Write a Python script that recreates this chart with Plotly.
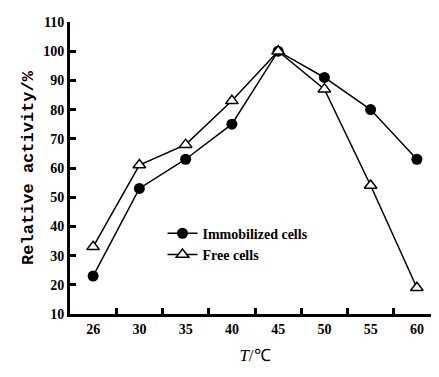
import plotly.graph_objects as go

temps = ["26", "30", "35", "40", "45", "50", "55", "60"]
immobilized = [23, 53, 63, 75, 100, 91, 80, 63]
free = [33, 61, 68, 83, 100, 87, 54, 19]
y_ticks = [10, 20, 30, 40, 50, 60, 70, 80, 90, 100, 110]

fig = go.Figure()
fig.add_trace(go.Scatter(
    x=temps, y=immobilized, name="Immobilized cells", mode="lines+markers",
    line=dict(color="black", width=1.5),
    marker=dict(symbol="circle", size=11, color="black"),
))
fig.add_trace(go.Scatter(
    x=temps, y=free, name="Free cells", mode="lines+markers",
    line=dict(color="black", width=1.5),
    marker=dict(symbol="triangle-up", size=11, color="white",
                line=dict(color="black", width=1.5)),
))

tickfont = dict(family="Liberation Serif", size=14, color="black", weight="bold")
fig.update_layout(
    width=439, height=377,
    margin=dict(l=62, r=7, t=12, b=71),
    paper_bgcolor="white", plot_bgcolor="white",
    showlegend=True,
    legend=dict(x=0.25, y=0.33, xanchor="left", yanchor="top",
                bgcolor="rgba(0,0,0,0)",
                font=dict(family="Liberation Serif", size=14, color="black", weight="bold"),
                itemwidth=30, tracegroupgap=0),
    xaxis=dict(type="category", range=[-0.5, 7.5], tickson="boundaries",
               ticks="inside", ticklen=6, tickwidth=2.5, tickcolor="black",
               showline=True, linewidth=3, linecolor="black",
               showgrid=False, zeroline=False, tickfont=tickfont,
               title=dict(text="<i>T</i>/℃", standoff=14,
                          font=dict(family="Liberation Serif", size=17, color="black"))),
    yaxis=dict(range=[10, 110], tickvals=y_ticks,
               ticks="inside", ticklen=6, tickwidth=2.5, tickcolor="black",
               showline=True, linewidth=3, linecolor="black",
               showgrid=False, zeroline=False, tickfont=tickfont,
               title=dict(text="Relative activity/%", standoff=6,
                          font=dict(family="Liberation Mono", size=17, color="black", weight="bold"))),
)
fig.write_html("out.html")
